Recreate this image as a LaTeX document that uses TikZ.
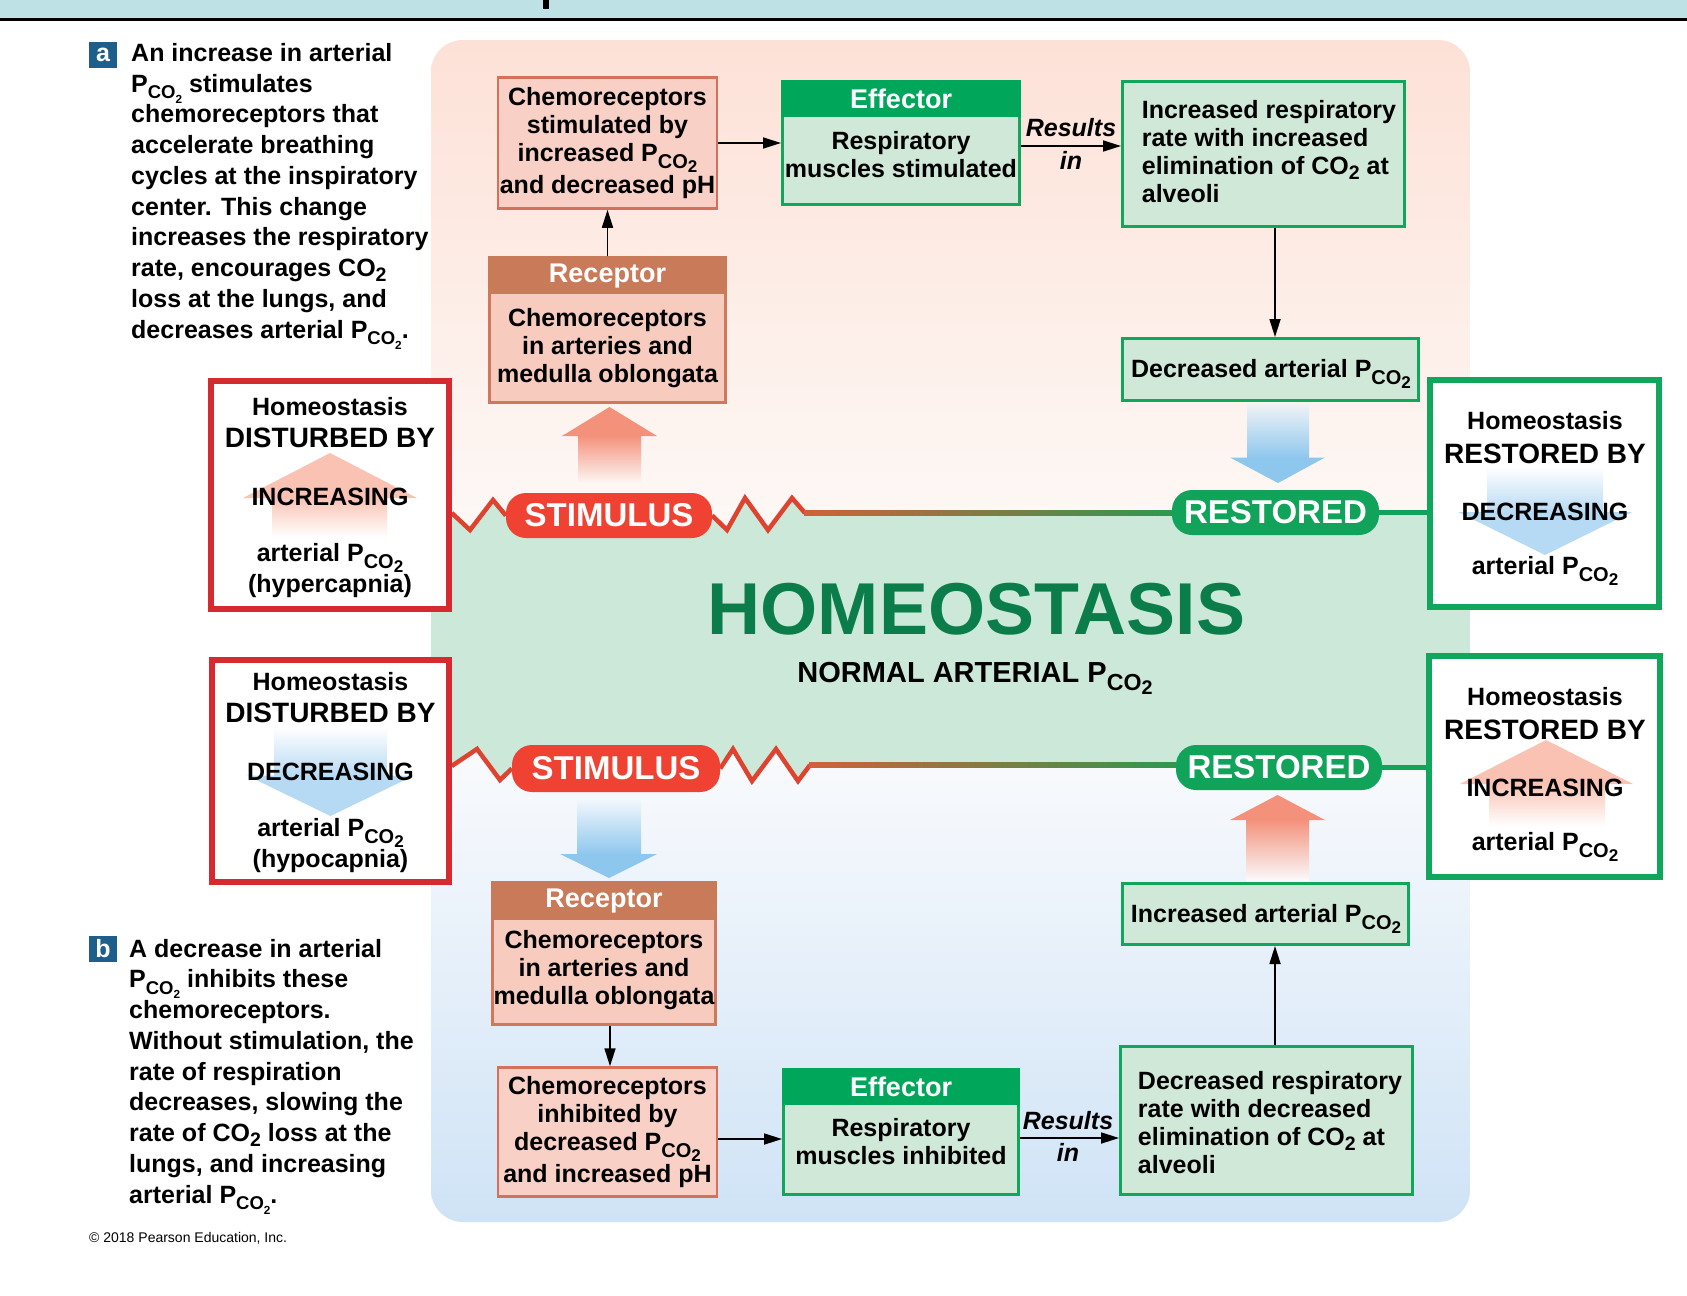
\documentclass[tikz,border=0pt]{standalone}
\usepackage{fontspec}
\setmainfont{Liberation Sans}
\usepackage{graphicx}
\usetikzlibrary{arrows.meta,calc}
\pgfdeclarelayer{bg}
\pgfdeclarelayer{lines}
\pgfsetlayers{bg,lines,main}

\definecolor{barblue}{HTML}{BDE1E4}
\definecolor{pinktop}{HTML}{FDE1D7}
\definecolor{pinkbot}{HTML}{FDF9F7}
\definecolor{bandgreen}{HTML}{CCE8D8}
\definecolor{bluebot}{HTML}{CFE3F6}
\definecolor{bluetop}{HTML}{FAFBFD}
\definecolor{effgreen}{HTML}{00A65A}
\definecolor{boxgreen}{HTML}{CFE8D8}
\definecolor{bordgreen}{HTML}{10A65B}
\definecolor{recbrown}{HTML}{C97A58}
\definecolor{recfill}{HTML}{F7CCBF}
\definecolor{recbord}{HTML}{D0785C}
\definecolor{chemfill}{HTML}{F9D0C5}
\definecolor{chembord}{HTML}{D4715A}
\definecolor{stimred}{HTML}{EF4232}
\definecolor{restgreen}{HTML}{12A35B}
\definecolor{zigred}{HTML}{DE4330}
\definecolor{lnA}{HTML}{D2603A}
\definecolor{lnB}{HTML}{9C7F42}
\definecolor{lnC}{HTML}{2A9950}
\definecolor{dkred}{HTML}{D52A30}
\definecolor{homgreen}{HTML}{0B7D4B}
\definecolor{labblue}{HTML}{1D5E8A}
\definecolor{arrpink}{HTML}{F4917B}
\definecolor{arrblue}{HTML}{8EC7EE}
\definecolor{lpink}{HTML}{F9C2B2}
\definecolor{lblue}{HTML}{B7DAF4}

\newcommand{\myfs}[2]{\fontsize{#1}{#2}\selectfont}
\newcommand{\Pco}{P\raisebox{-0.3em}{\scalebox{0.8}{CO}}\raisebox{-0.44em}{\scalebox{0.68}{2}}}
\newcommand{\PcoP}{P\raisebox{-0.27em}{\scalebox{0.74}{CO}}\raisebox{-0.44em}{\scalebox{0.47}{2}}}
\newcommand{\COt}{CO\raisebox{-0.2em}{\scalebox{0.78}{2}}}

\tikzset{
  txt/.style={inner sep=0pt, align=center, font={\myfs{25}{28}\bfseries\lineskiplimit=-40pt}},
  para/.style={inner sep=0pt, align=left, anchor=base west, font={\myfs{25}{30.75}\bfseries\lineskiplimit=-40pt}},
  conn/.style={line width=1.7pt, -{Triangle[length=18pt,width=11pt]}},
  chembox/.style={draw=chembord, line width=2.5pt, fill=chemfill, inner sep=0pt},
  recbox/.style={draw=recbord, line width=2.5pt, fill=recfill, inner sep=0pt},
  grbox/.style={draw=bordgreen, line width=3pt, fill=boxgreen, inner sep=0pt},
  redbox/.style={draw=dkred, line width=5.5pt, fill=white, inner sep=0pt},
  gbox/.style={draw=bordgreen, line width=5.5pt, fill=white, inner sep=0pt},
  pill/.style={rounded corners=20pt, inner sep=0pt, text=white, font=\myfs{33}{36}\bfseries},
  hdr/.style={inner sep=0pt, text=white, font=\myfs{27}{30}\bfseries},
  resl/.style={inner sep=0pt, anchor=base, font=\myfs{25}{28}\bfseries\itshape},
  sidet/.style={inner sep=0pt, anchor=base, font=\myfs{25}{28}\bfseries},
  sideh/.style={inner sep=0pt, anchor=base, font=\myfs{28}{30}\bfseries},
  zig/.style={draw=zigred, line width=4.5pt},
  gline/.style={draw=restgreen, line width=4.5pt},
  labbox/.style={fill=labblue, text=white, inner sep=0pt, minimum width=28pt, minimum height=26pt, font=\myfs{25}{28}\bfseries},
}

\begin{document}
\begin{tikzpicture}[x=1pt,y=-1pt]
\useasboundingbox (0,0) rectangle (1687,1296);

% panel background
\begin{pgfonlayer}{bg}
\fill[white] (0,0) rectangle (1687,1296);
\begin{scope}
\clip[rounded corners=32pt] (431,40) rectangle (1470,1222);
\shade[top color=pinktop, bottom color=pinkbot] (431,40) rectangle (1470,545);
\shade[top color=bluetop, bottom color=bluebot] (431,740) rectangle (1470,1222);
\fill[bandgreen] (431,513) -- (452,513) -- (470,530) -- (493,500) -- (510,515) -- (710,515)
  -- (727,530) -- (745,498) -- (768,530) -- (792,498) -- (805,513) -- (1470,513)
  -- (1470,766) -- (810,765) -- (798,781) -- (776,749) -- (752,781) -- (733,749)
  -- (716,767) -- (515,767) -- (500,780) -- (477,749) -- (452,766) -- (431,766) -- cycle;
\end{scope}
\end{pgfonlayer}

% top bar
\fill[barblue] (0,0) rectangle (1687,18);
\fill[black] (0,18) rectangle (1687,21);
\fill[black] (543,0) rectangle (549,9);

% ---------- paragraphs ----------
\node[labbox] (la) at (103,55) {a};
\node[para] (pa) at (131,338) {An increase in arterial\\\PcoP{} stimulates\\chemoreceptors that\\accelerate breathing\\cycles at the inspiratory\\center. This change\\increases the respiratory\\rate, encourages \COt\\loss at the lungs, and\\decreases arterial \PcoP.};
\node[labbox] (lb) at (103,948.5) {b};
\node[para] (pb) at (129,1203) {A decrease in arterial\\\PcoP{} inhibits these\\chemoreceptors.\\Without stimulation, the\\rate of respiration\\decreases, slowing the\\rate of \COt{} loss at the\\lungs, and increasing\\arterial \PcoP.};
\node[inner sep=0pt, anchor=base west, font=\myfs{14}{16}] (copy) at (89,1242) {© 2018 Pearson Education, Inc.};

% ---------- top loop ----------
\node[chembox, minimum width=219pt, minimum height=131pt] (c1) at (607.5,143) {};
\node[txt] (c1t) at (c1.center) {Chemoreceptors\\stimulated by\\increased \Pco\\[4pt]and decreased pH};

\node[grbox, minimum width=237pt, minimum height=123pt] (eff1) at (901,143) {};
\fill[effgreen] (eff1.north west) rectangle ($(eff1.north east)+(0,37)$);
\node[hdr] (eff1h) at ($(eff1.north)+(0,19)$) {Effector};
\node[txt] (eff1t) at (901,155) {Respiratory\\muscles stimulated};

\node[grbox, minimum width=282pt, minimum height=145pt] (res1) at (1263.5,154) {};
\node[txt, align=left] (res1t) at (1269,152) {Increased respiratory\\rate with increased\\elimination of \COt{} at\\alveoli};

\node[grbox, minimum width=296pt, minimum height=62pt] (dec) at (1270.5,369.5) {};
\node[txt, anchor=base] (dect) at (1271,377) {Decreased arterial \Pco};

\node[recbox, minimum width=236pt, minimum height=145pt] (rec1) at (607.5,330) {};
\fill[recbrown] (rec1.north west) rectangle ($(rec1.north east)+(0,38)$);
\node[hdr] (rec1h) at ($(rec1.north)+(0,19.5)$) {Receptor};
\node[txt] (rec1t) at (607.5,348) {Chemoreceptors\\in arteries and\\medulla oblongata};

\node[resl] (rs1a) at (1071,136) {Results};
\node[resl] (rs1b) at (1071,169) {in};

% ---------- bottom loop ----------
\node[recbox, minimum width=223pt, minimum height=142pt] (rec2) at (604,953.5) {};
\fill[recbrown] (rec2.north west) rectangle ($(rec2.north east)+(0,39)$);
\node[hdr] (rec2h) at ($(rec2.north)+(0,20)$) {Receptor};
\node[txt] (rec2t) at (604,970) {Chemoreceptors\\in arteries and\\medulla oblongata};

\node[chembox, minimum width=219pt, minimum height=129pt] (c2) at (607.5,1132) {};
\node[txt] (c2t) at (c2.center) {Chemoreceptors\\inhibited by\\decreased \Pco\\[4pt]and increased pH};

\node[grbox, minimum width=235pt, minimum height=125pt] (eff2) at (901,1132) {};
\fill[effgreen] (eff2.north west) rectangle ($(eff2.north east)+(0,37)$);
\node[hdr] (eff2h) at ($(eff2.north)+(0,19)$) {Effector};
\node[txt] (eff2t) at (901,1142) {Respiratory\\muscles inhibited};

\node[grbox, minimum width=292pt, minimum height=148pt] (res2) at (1266.5,1120.5) {};
\node[txt, align=left] (res2t) at (1270,1123) {Decreased respiratory\\rate with decreased\\elimination of \COt{} at\\alveoli};

\node[grbox, minimum width=286pt, minimum height=61pt] (inc) at (1265.5,914) {};
\node[txt, anchor=base] (inct) at (1266,922) {Increased arterial \Pco};

\node[resl] (rs2a) at (1068,1129) {Results};
\node[resl] (rs2b) at (1068,1161) {in};

% ---------- centre ----------
\node[inner sep=0pt, font=\myfs{73.5}{80}\bfseries, text=homgreen] (homeo) at (976.5,609) {HOMEOSTASIS};
\node[inner sep=0pt, anchor=base, font=\myfs{29}{32}\bfseries] (normal) at (975,682) {NORMAL ARTERIAL \Pco};

% ---------- pills ----------
\node[pill, fill=stimred, minimum width=206pt, minimum height=45pt] (stim1) at (609,515.5) {STIMULUS};
\node[pill, fill=restgreen, minimum width=207pt, minimum height=45pt] (rest1) at (1275.5,512.5) {RESTORED};
\node[pill, fill=stimred, minimum width=208pt, minimum height=47pt] (stim2) at (616,768.5) {STIMULUS};
\node[pill, fill=restgreen, minimum width=206pt, minimum height=45pt] (rest2) at (1279,767.5) {RESTORED};

% ---------- panel block arrows ----------
\fill[arrpink] (562,436) -- (609.5,407) -- (657,436) -- cycle;
\shade[top color=arrpink, bottom color=pinkbot] (578,435.5) rectangle (641,484);
\shade[top color=arrblue!12!pinkbot, bottom color=arrblue] (1247,404) rectangle (1309,458);
\fill[arrblue] (1230,457.5) -- (1325,457.5) -- (1278,483) -- cycle;
\shade[top color=arrblue!8!bluetop, bottom color=arrblue] (577,800) rectangle (641,854.5);
\fill[arrblue] (560,854) -- (657,854) -- (609,878) -- cycle;
\fill[arrpink] (1230,820) -- (1277.5,795) -- (1325,820) -- cycle;
\shade[top color=arrpink, bottom color=bluetop] (1246,819.5) rectangle (1309,881);

% ---------- side boxes ----------
\node[redbox, minimum width=238pt, minimum height=228pt] (lb1) at (330,495) {};
\fill[lpink] (243,498) -- (330,453) -- (417,498) -- cycle;
\shade[top color=lpink, bottom color=white] (272,497.5) rectangle (387,537);
\node[sidet] (lb1a) at (330,415) {Homeostasis};
\node[sideh] (lb1b) at (330,447) {DISTURBED BY};
\node[sidet] (lb1c) at (330,505) {INCREASING};
\node[sidet] (lb1d) at (330,561) {arterial \Pco};
\node[sidet] (lb1e) at (330,592) {(hypercapnia)};

\node[redbox, minimum width=237pt, minimum height=222pt] (lb2) at (330.5,771) {};
\shade[top color=white, bottom color=lblue] (274,727) rectangle (387,776);
\fill[lblue] (247,775.5) -- (414,775.5) -- (330.5,816) -- cycle;
\node[sidet] (lb2a) at (330.5,690) {Homeostasis};
\node[sideh] (lb2b) at (330.5,722) {DISTURBED BY};
\node[sidet] (lb2c) at (330.5,780) {DECREASING};
\node[sidet] (lb2d) at (330.5,836) {arterial \Pco};
\node[sidet] (lb2e) at (330.5,867) {(hypocapnia)};

\node[gbox, minimum width=229pt, minimum height=227pt] (rb1) at (1544.5,493.5) {};
\shade[top color=white, bottom color=lblue] (1487,467) rectangle (1603,512.5);
\fill[lblue] (1458,512) -- (1632,512) -- (1545,555) -- cycle;
\node[sidet] (rb1a) at (1545,429) {Homeostasis};
\node[sideh] (rb1b) at (1545,463) {RESTORED BY};
\node[sidet] (rb1c) at (1545,520) {DECREASING};
\node[sidet] (rb1d) at (1545,574) {arterial \Pco};

\node[gbox, minimum width=231pt, minimum height=221pt] (rb2) at (1544.5,766.5) {};
\fill[lpink] (1460,784) -- (1546,740) -- (1633,784) -- cycle;
\shade[top color=lpink, bottom color=white] (1489,783.5) rectangle (1605,826);
\node[sidet] (rb2a) at (1545,705) {Homeostasis};
\node[sideh] (rb2b) at (1545,739) {RESTORED BY};
\node[sidet] (rb2c) at (1545,796) {INCREASING};
\node[sidet] (rb2d) at (1545,850) {arterial \Pco};

% ---------- connectors ----------
\coordinate (ax) at (1275,0);
\coordinate (ax2) at (610,0);
\coordinate (ay1) at (0,146);
\coordinate (ay2) at (0,1139);
\coordinate (ay3) at (0,1138);
\draw[conn] (c1.east) -- (eff1.west);
\draw[conn] (eff1.east |- ay1) -- (res1.west |- ay1);
\draw[conn] (res1.south -| ax) -- (dec.north -| ax);
\draw[conn] (rec1.north) -- (c1.south);
\draw[conn] (rec2.south -| ax2) -- (c2.north -| ax2);
\draw[conn] (c2.east |- ay2) -- (eff2.west |- ay2);
\draw[conn] (eff2.east |- ay3) -- (res2.west |- ay3);
\draw[conn] (res2.north -| ax) -- (inc.south -| ax);

% ---------- stimulus / restored lines ----------
\begin{pgfonlayer}{lines}
\draw[zig] (lb1.east |- 0,513) -- (470,530) -- (493,500) -- (stim1.west);
\draw[zig] (stim1.east) -- (727,530) -- (745,498) -- (768,530) -- (792,498) -- (805,513) coordinate (z1e);
\shade[left color=lnA, middle color=lnB, right color=lnC] ($(z1e)+(-1,-2.25)$) rectangle ($(rest1.west |- z1e)+(10,2.25)$);
\draw[gline] (rest1.east) -- (rest1.east -| rb1.west);
\draw[zig] (lb2.east |- 0,766) -- (477,749) -- (500,780) -- (stim2.west);
\draw[zig] (stim2.east) -- (733,749) -- (752,781) -- (776,749) -- (798,781) -- (810,765) coordinate (z2e);
\shade[left color=lnA, middle color=lnB, right color=lnC] ($(z2e)+(-1,-2.25)$) rectangle ($(rest2.west |- z2e)+(10,2.25)$);
\draw[gline] (rest2.east) -- (rest2.east -| rb2.west);
\end{pgfonlayer}
\end{tikzpicture}
\end{document}
